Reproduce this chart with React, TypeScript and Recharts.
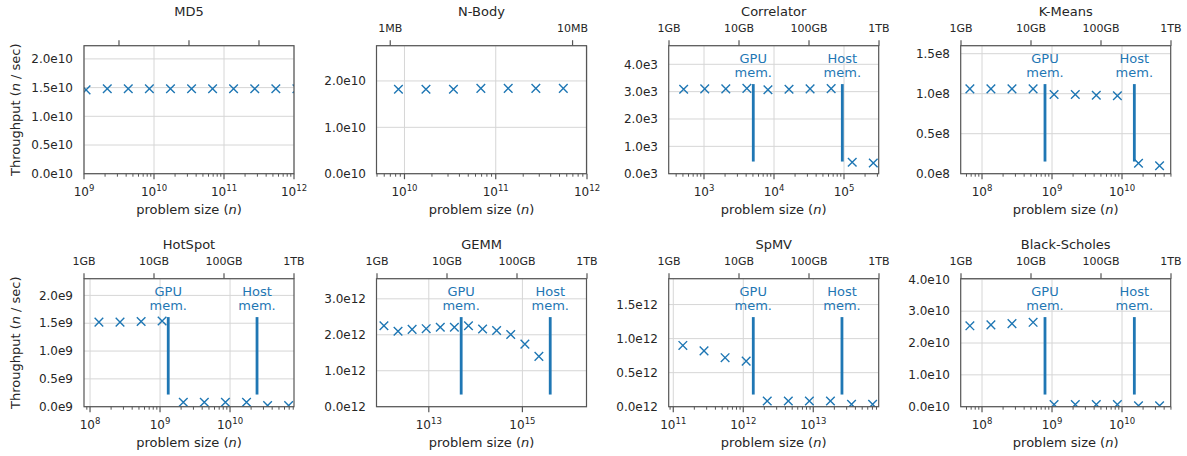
import { CartesianGrid, ReferenceDot, ReferenceLine, Scatter, ScatterChart, XAxis, YAxis } from 'recharts';

const BLUE = '#1f77b4';
const INK = '#262626';
const SPINE = '#555555';
const GRID = '#d6d6d6';
const FONT = '"DejaVu Sans", sans-serif';

// problem sizes (n) and measured throughput (n / sec), one pair per benchmark
const md5Sizes = [1.07e9, 2.15e9, 4.29e9, 8.59e9, 1.72e10, 3.44e10, 6.87e10, 1.37e11, 2.75e11, 5.5e11, 1.1e12];
const md5Throughput = [1.46e10, 1.48e10, 1.48e10, 1.48e10, 1.48e10, 1.48e10, 1.48e10, 1.48e10, 1.48e10, 1.48e10, 1.48e10];

const nbodySizes = [8.59e9, 1.72e10, 3.44e10, 6.87e10, 1.37e11, 2.75e11, 5.5e11, 1.1e12];
const nbodyThroughput = [1.82e10, 1.82e10, 1.82e10, 1.84e10, 1.84e10, 1.84e10, 1.84e10, 1.84e10];

const corrSizes = [512, 1024, 2048, 4096, 8192, 16384, 32768, 65536, 131072, 262144];
const corrThroughput = [3.09e3, 3.1e3, 3.1e3, 3.12e3, 3.07e3, 3.09e3, 3.1e3, 3.11e3, 0.42e3, 0.39e3];

const kmeansSizes = [6.71e7, 1.34e8, 2.68e8, 5.37e8, 1.07e9, 2.15e9, 4.29e9, 8.59e9, 1.72e10, 3.44e10];
const kmeansThroughput = [1.06e8, 1.06e8, 1.06e8, 1.06e8, 0.99e8, 0.99e8, 0.98e8, 0.975e8, 0.13e8, 0.1e8];

const hotspotSizes = [1.34e8, 2.68e8, 5.37e8, 1.07e9, 2.15e9, 4.29e9, 8.59e9, 1.72e10, 3.44e10, 6.87e10];
const hotspotThroughput = [1.52e9, 1.52e9, 1.53e9, 1.54e9, 0.08e9, 0.08e9, 0.08e9, 0.08e9, 0.02e9, 0.02e9];

const gemmSizes = [1.1e12, 2.2e12, 4.4e12, 8.8e12, 1.76e13, 3.52e13, 7.04e13, 1.41e14, 2.81e14, 5.63e14, 1.13e15, 2.25e15];
const gemmThroughput = [2.25e12, 2.1e12, 2.15e12, 2.17e12, 2.21e12, 2.21e12, 2.25e12, 2.16e12, 2.12e12, 2.01e12, 1.74e12, 1.4e12];

const spmvSizes = [1.37e11, 2.75e11, 5.5e11, 1.1e12, 2.2e12, 4.4e12, 8.8e12, 1.76e13, 3.52e13, 7.04e13];
const spmvThroughput = [0.9e12, 0.82e12, 0.72e12, 0.67e12, 0.084e12, 0.084e12, 0.084e12, 0.084e12, 0.035e12, 0.035e12];

const bsSizes = [6.71e7, 1.34e8, 2.68e8, 5.37e8, 1.07e9, 2.15e9, 4.29e9, 8.59e9, 1.72e10, 3.44e10];
const bsThroughput = [2.54e10, 2.57e10, 2.61e10, 2.65e10, 0.07e10, 0.07e10, 0.07e10, 0.07e10, 0.03e10, 0.03e10];

// memory limits (n where the working set exceeds GPU / host memory)
const memWords = ['GPU', 'Host'];
const corrMem = [5058, 94600];
const kmeansMem = [7.94e8, 1.5e10];
const hotspotMem = [1.31e9, 2.43e10];
const gemmMem = [4.92e13, 3.93e15];
const spmvMem = [1.39e12, 2.57e13];
const bsMem = [7.94e8, 1.5e10];

// secondary (top) axis: working-set size
const gbTicks = [1, 10, 100, 1000];
const gbLabels = ['1GB', '10GB', '100GB', '1TB'];
const mbTicks = [1, 10];
const mbLabels = ['1MB', '10MB'];
const md5TopTicks = [3.16e9, 3.16e10, 3.16e11];
const md5TopLabels = ['', '', ''];

const ROW_TOP = [0, 233];
const ROW_HEIGHT = [228, 223];
const ROW_MARGIN_BOTTOM = [24.3, 19.3];
const PLOT_LEFT = [84, 376.5, 668.7, 960.7];
const PLOT_W = 210;
const PLOT_H = 128;
const PLOT_TOP_OFFSET = 45.7;

type Panel = {
  title: string;
  sizes: number[];
  throughput: number[];
  xDomain: number[];
  xMajors: number[];
  minors: boolean;
  yDomain: number[];
  yTicks: number[];
  yExp: number;
  topDomain: number[];
  topTicks: number[];
  topLabels: string[];
  mem?: number[];
};

const panels: Panel[] = [
  {
    title: 'MD5', sizes: md5Sizes, throughput: md5Throughput,
    xDomain: [1e9, 1e12], xMajors: [1e9, 1e10, 1e11, 1e12], minors: true,
    yDomain: [0, 2.23e10], yTicks: [0, 0.5e10, 1e10, 1.5e10, 2e10], yExp: 10,
    topDomain: [1e9, 1e12], topTicks: md5TopTicks, topLabels: md5TopLabels,
  },
  {
    title: 'N-Body', sizes: nbodySizes, throughput: nbodyThroughput,
    xDomain: [5e9, 1e12], xMajors: [1e10, 1e11, 1e12], minors: true,
    yDomain: [0, 2.76e10], yTicks: [0, 1e10, 2e10], yExp: 10,
    topDomain: [0.846, 12.0], topTicks: mbTicks, topLabels: mbLabels,
  },
  {
    title: 'Correlator', sizes: corrSizes, throughput: corrThroughput,
    xDomain: [316.2, 316228], xMajors: [1e3, 1e4, 1e5], minors: true,
    yDomain: [0, 4.68e3], yTicks: [0, 1e3, 2e3, 3e3, 4e3], yExp: 3,
    topDomain: [1, 1000], topTicks: gbTicks, topLabels: gbLabels, mem: corrMem,
  },
  {
    title: 'K-Means', sizes: kmeansSizes, throughput: kmeansThroughput,
    xDomain: [5.01e7, 5.01e10], xMajors: [1e8, 1e9, 1e10], minors: true,
    yDomain: [0, 1.6e8], yTicks: [0, 0.5e8, 1e8, 1.5e8], yExp: 8,
    topDomain: [1, 1000], topTicks: gbTicks, topLabels: gbLabels, mem: kmeansMem,
  },
  {
    title: 'HotSpot', sizes: hotspotSizes, throughput: hotspotThroughput,
    xDomain: [8.2e7, 8.2e10], xMajors: [1e8, 1e9, 1e10], minors: true,
    yDomain: [0, 2.3e9], yTicks: [0, 0.5e9, 1e9, 1.5e9, 2e9], yExp: 9,
    topDomain: [1, 1000], topTicks: gbTicks, topLabels: gbLabels, mem: hotspotMem,
  },
  {
    title: 'GEMM', sizes: gemmSizes, throughput: gemmThroughput,
    xDomain: [7.82e11, 2.4e16], xMajors: [1e13, 1e15], minors: false,
    yDomain: [0, 3.56e12], yTicks: [0, 1e12, 2e12, 3e12], yExp: 12,
    topDomain: [1, 1000], topTicks: gbTicks, topLabels: gbLabels, mem: gemmMem,
  },
  {
    title: 'SpMV', sizes: spmvSizes, throughput: spmvThroughput,
    xDomain: [8.69e10, 8.69e13], xMajors: [1e11, 1e12, 1e13], minors: true,
    yDomain: [0, 1.88e12], yTicks: [0, 0.5e12, 1e12, 1.5e12], yExp: 12,
    topDomain: [1, 1000], topTicks: gbTicks, topLabels: gbLabels, mem: spmvMem,
  },
  {
    title: 'Black-Scholes', sizes: bsSizes, throughput: bsThroughput,
    xDomain: [5.01e7, 5.01e10], xMajors: [1e8, 1e9, 1e10], minors: true,
    yDomain: [0, 4.02e10], yTicks: [0, 1e10, 2e10, 3e10, 4e10], yExp: 10,
    topDomain: [1, 1000], topTicks: gbTicks, topLabels: gbLabels, mem: bsMem,
  },
];

function minorTicks(domain: number[]) {
  const out: number[] = [];
  for (let d = Math.floor(Math.log10(domain[0])); d <= Math.ceil(Math.log10(domain[1])); d++) {
    for (let k = 2; k <= 9; k++) {
      const v = k * 10 ** d;
      if (v >= domain[0] && v <= domain[1]) out.push(v);
    }
  }
  return out;
}

const same = (a: number, b: number) => Math.abs(a - b) / Math.abs(b) < 1e-6;

function BottomTick(props: any) {
  const { x, y, payload, majors } = props;
  const v = payload.value;
  if (!majors.some((m: number) => same(m, v))) {
    return <line x1={x} x2={x} y1={y} y2={y + 3} stroke={SPINE} strokeWidth={1} />;
  }
  const exp = Math.round(Math.log10(v));
  return (
    <g>
      <line x1={x} x2={x} y1={y} y2={y + 5.5} stroke={SPINE} strokeWidth={1.2} />
      <text x={x} y={y + 22} textAnchor="middle" fontSize={12} fill={INK} fontFamily={FONT}>
        10<tspan dy={-5} fontSize={8.5}>{exp}</tspan>
      </text>
    </g>
  );
}

function TopTick(props: any) {
  const { x, y, payload, tickValues, labels } = props;
  const i = tickValues.findIndex((t: number) => same(t, payload.value));
  return (
    <g>
      <line x1={x} x2={x} y1={y} y2={y - 5.5} stroke={SPINE} strokeWidth={1.2} />
      {labels[i] ? (
        <text x={x} y={y - 13.3} textAnchor="middle" fontSize={11} fill={INK} fontFamily={FONT}>
          {labels[i]}
        </text>
      ) : null}
    </g>
  );
}

function XMark(props: any) {
  const { cx, cy } = props;
  const h = 4.3;
  return (
    <path
      d={`M${cx - h},${cy - h}L${cx + h},${cy + h}M${cx - h},${cy + h}L${cx + h},${cy - h}`}
      stroke={BLUE}
      strokeWidth={1.4}
      fill="none"
    />
  );
}

const NoMark = () => <g />;

function MemLabel({ cx, cy, word }: { cx: number; cy: number; word: string }) {
  return (
    <text x={cx} y={cy - 21.5} textAnchor="middle" fontSize={13} fill={BLUE} fontFamily={FONT}>
      {word}
      <tspan x={cx} dy={14.5}>mem.</tspan>
    </text>
  );
}

function PanelChart({ p, idx }: { p: Panel; idx: number }) {
  const row = Math.floor(idx / 4);
  const col = idx % 4;
  const data = p.sizes.map((s, i) => ({ x: s, y: p.throughput[i] }));
  // anchors the secondary axis so it gets laid out; draws nothing
  const topAnchor = p.topTicks.map((t) => ({ top: t, y: p.yDomain[1] }));
  const ymax = p.yDomain[1];
  const bottomTicks = [...p.xMajors, ...(p.minors ? minorTicks(p.xDomain) : [])].sort((a, b) => a - b);
  const fmt = (v: number) => `${(v / 10 ** p.yExp).toFixed(1)}e${p.yExp}`;

  return (
    <div style={{ position: 'absolute', left: PLOT_LEFT[col] - 60, top: ROW_TOP[row] }}>
      <ScatterChart
        width={292}
        height={ROW_HEIGHT[row]}
        margin={{ top: PLOT_TOP_OFFSET - 20, right: 22, bottom: ROW_MARGIN_BOTTOM[row], left: 10 }}
      >
        <CartesianGrid vertical={false} stroke={GRID} strokeWidth={1} />
        {p.xMajors.map((m) => (
          <ReferenceLine key={m} x={m} stroke={GRID} strokeWidth={1} />
        ))}
        <XAxis
          dataKey="x"
          type="number"
          scale="log"
          domain={p.xDomain}
          allowDataOverflow
          ticks={bottomTicks}
          interval={0}
          height={30}
          tickSize={0}
          tickMargin={0}
          axisLine={false}
          tickLine={false}
          tick={(t: any) => <BottomTick {...t} majors={p.xMajors} />}
        />
        <XAxis
          xAxisId="top"
          dataKey="top"
          orientation="top"
          type="number"
          scale="log"
          domain={p.topDomain}
          allowDataOverflow
          ticks={p.topTicks}
          interval={0}
          height={20}
          tickSize={0}
          tickMargin={0}
          axisLine={false}
          tickLine={false}
          tick={(t: any) => <TopTick {...t} tickValues={p.topTicks} labels={p.topLabels} />}
        />
        <YAxis
          dataKey="y"
          type="number"
          domain={p.yDomain}
          allowDataOverflow
          ticks={p.yTicks}
          interval={0}
          width={50}
          tickSize={0}
          tickMargin={11}
          axisLine={false}
          tickLine={false}
          tick={{ fontSize: 12, fill: INK, fontFamily: FONT }}
          tickFormatter={fmt}
        />
        {(p.mem || []).map((m) => (
          <ReferenceLine
            key={`line-${m}`}
            segment={[
              { x: m, y: ymax * 0.095 },
              { x: m, y: ymax * 0.7 },
            ]}
            stroke={BLUE}
            strokeWidth={2.8}
          />
        ))}
        {(p.mem || []).map((m, i) => (
          <ReferenceDot
            key={`label-${m}`}
            x={m}
            y={ymax * 0.7}
            r={0}
            shape={(d: any) => <MemLabel cx={d.cx} cy={d.cy} word={memWords[i]} />}
          />
        ))}
        <Scatter xAxisId="top" data={topAnchor} shape={NoMark} isAnimationActive={false} />
        <Scatter data={data} shape={XMark} isAnimationActive={false} />
      </ScatterChart>
    </div>
  );
}

export default function App() {
  return (
    <div style={{ position: 'absolute', left: 0, top: 0, width: 1187, height: 456, background: '#fff', overflow: 'hidden' }}>
      {panels.map((p, i) => (
        <PanelChart key={p.title} p={p} idx={i} />
      ))}
      <svg width={1187} height={456} style={{ position: 'absolute', left: 0, top: 0, pointerEvents: 'none' }}>
        {panels.map((p, i) => {
          const row = Math.floor(i / 4);
          const col = i % 4;
          const left = PLOT_LEFT[col];
          const top = ROW_TOP[row] + PLOT_TOP_OFFSET;
          const cx = left + PLOT_W / 2;
          return (
            <g key={p.title} fontFamily={FONT} fill={INK}>
              <rect x={left} y={top} width={PLOT_W} height={PLOT_H} fill="none" stroke={SPINE} strokeWidth={1.2} />
              <text x={cx} y={top - 29.7} textAnchor="middle" fontSize={13}>
                {p.title}
              </text>
              <text x={cx} y={top + PLOT_H + 40.5} textAnchor="middle" fontSize={13}>
                problem size (<tspan fontStyle="italic">n</tspan>)
              </text>
              {col === 0 ? (
                <text
                  x={20}
                  y={top + PLOT_H / 2}
                  transform={`rotate(-90 20 ${top + PLOT_H / 2})`}
                  textAnchor="middle"
                  fontSize={13}
                >
                  Throughput (<tspan fontStyle="italic">n</tspan> / sec)
                </text>
              ) : null}
            </g>
          );
        })}
      </svg>
    </div>
  );
}
